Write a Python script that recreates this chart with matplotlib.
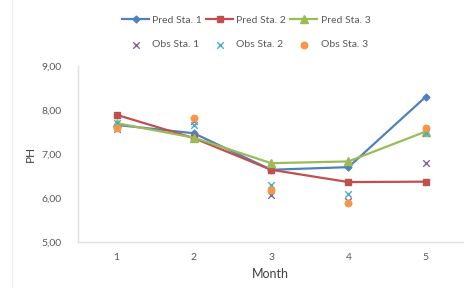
import matplotlib
matplotlib.use("Agg")
import matplotlib.pyplot as plt
from matplotlib.ticker import FuncFormatter

months = [1, 2, 3, 4, 5]
pred_sta1 = [7.66, 7.47, 6.64, 6.70, 8.30]
pred_sta2 = [7.89, 7.36, 6.64, 6.36, 6.37]
pred_sta3 = [7.70, 7.37, 6.79, 6.83, 7.51]
obs_sta1 = [7.56, 7.74, 6.07, 5.92, 6.79]
obs_sta2 = [7.70, 7.66, 6.30, 6.10, 7.47]
obs_sta3 = [7.58, 7.81, 6.18, 5.88, 7.58]
y_ticks = [5, 6, 7, 8, 9]

plt.rcParams['font.family'] = ['Lato', 'DejaVu Sans']

fig = plt.figure(figsize=(4.69, 2.88), dpi=100)
ax = fig.add_axes([0.166, 0.160, 0.821, 0.611])

h1, = ax.plot(months, pred_sta1, color='#4F81BD', marker='D', markersize=3.5, lw=1.6, label='Pred Sta. 1')
h2, = ax.plot(months, pred_sta2, color='#C0504D', marker='s', markersize=5, lw=1.6, label='Pred Sta. 2')
h3, = ax.plot(months, pred_sta3, color='#9BBB59', marker='^', markersize=5.5, lw=1.6, label='Pred Sta. 3')
o1 = ax.scatter(months, obs_sta1, color='#8064A2', marker='x', s=22, linewidths=1.0, label='Obs Sta. 1', zorder=3)
o2 = ax.scatter(months, obs_sta2, color='#4BACC6', marker='x', s=22, linewidths=1.0, label='Obs Sta. 2', zorder=3)
o3 = ax.scatter(months, obs_sta3, color='#F79646', marker='o', s=22, label='Obs Sta. 3', zorder=3)

ax.set_xlim(0.5, 5.48)
ax.set_ylim(5, 9)
ax.set_xticks(months)
ax.set_yticks(y_ticks)
ax.yaxis.set_major_formatter(FuncFormatter(lambda v, p: f"{v:.2f}".replace('.', ',')))
for s in ['top', 'right']:
    ax.spines[s].set_visible(False)
for s in ['left', 'bottom']:
    ax.spines[s].set_color('#E0E0E0')
    ax.spines[s].set_linewidth(1.0)
ax.tick_params(length=0, labelsize=7.5, colors='#595959', pad=8)
ax.tick_params(axis='y', pad=12)
ax.set_xlabel('Month', fontsize=9, color='#404040', labelpad=4)
ax.set_ylabel('PH', fontsize=8.5, color='#404040', labelpad=4)

fig.legend([h1, o1, h2, o2, h3, o3],
           ['Pred Sta. 1', 'Obs Sta. 1', 'Pred Sta. 2', 'Obs Sta. 2', 'Pred Sta. 3', 'Obs Sta. 3'],
           ncol=3, loc='upper center', bbox_to_anchor=(0.525, 0.978), frameon=False,
           fontsize=7.5, labelcolor='#595959', handlelength=2.6, handletextpad=0.3,
           columnspacing=0.4, labelspacing=1.45)

fig.add_artist(plt.Line2D([0.025, 0.025], [0.0, 1.0], color='#EBEBEB', lw=0.8))

fig.savefig('out.png', dpi=100)
